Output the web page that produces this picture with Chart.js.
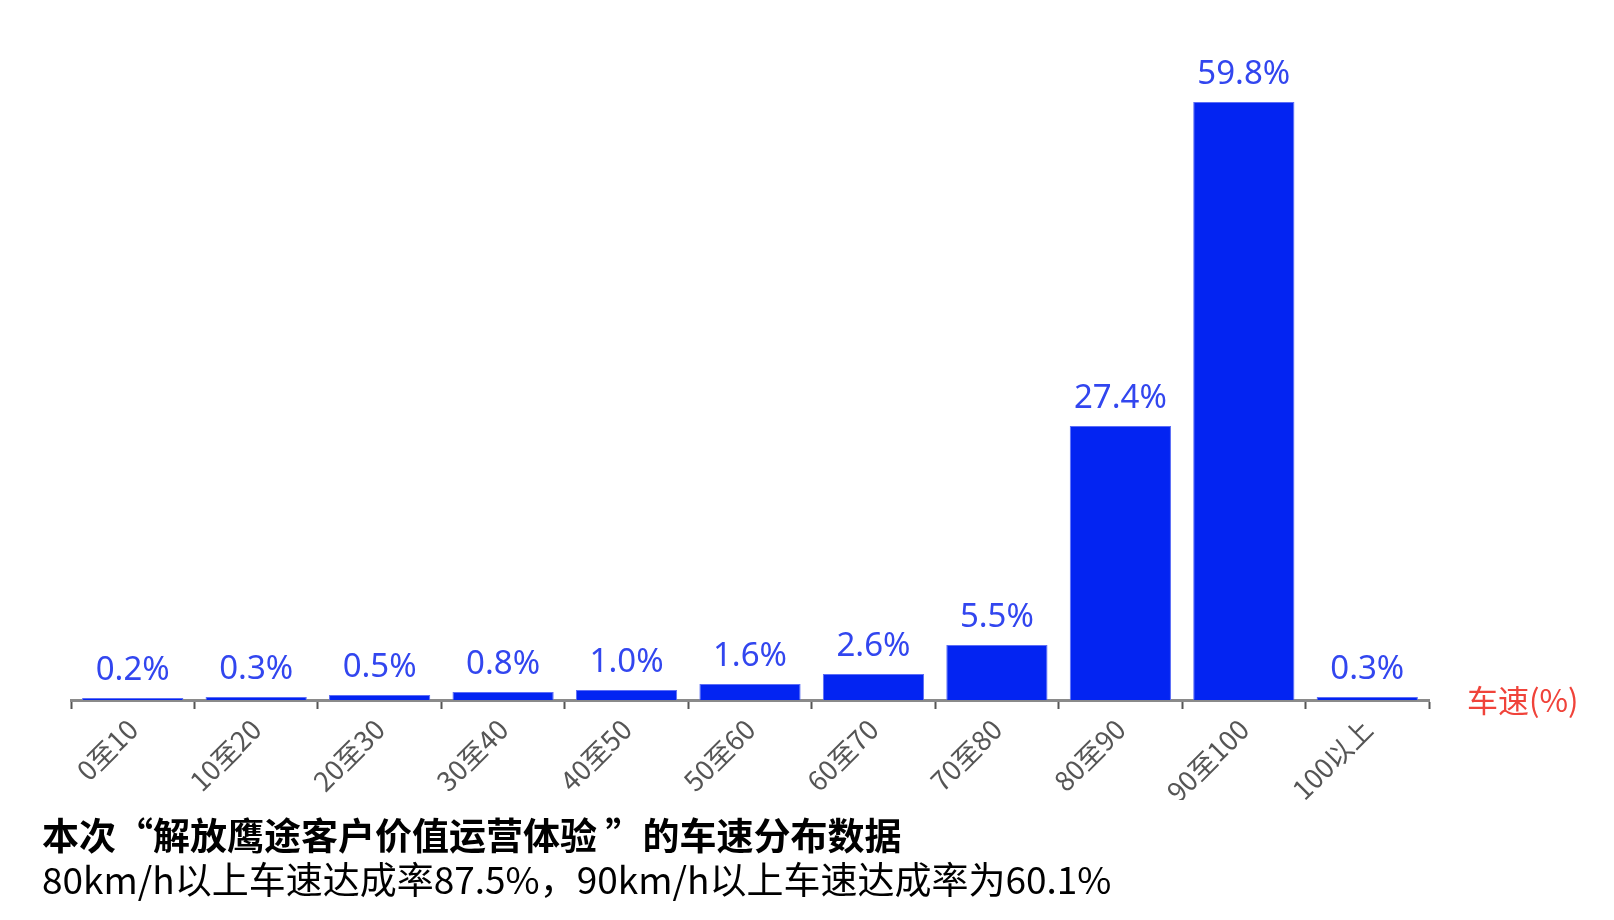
<!DOCTYPE html>
<html>
<head>
<meta charset="utf-8">
<script src="https://cdn.jsdelivr.net/npm/chart.js@4.4.0/dist/chart.umd.min.js"></script>
<style>
    html, body { margin: 0; padding: 0; background: #fff; }
    #wrap { position: relative; width: 1614px; height: 920px; }
    #speedChart { position: absolute; left: 0; top: 0; }
    .caption { position: absolute; left: 42px; color: #000; font-family: "Noto Sans CJK SC", sans-serif; font-size: 37px; white-space: nowrap; line-height: 1; }
    #title { top: 816px; font-weight: bold; }
    #subtitle { top: 860px; }
</style>
</head>
<body>
<div id="wrap">
    <canvas id="speedChart" width="1614" height="920"></canvas>
    <div id="title" class="caption">本次“解放鹰途客户价值运营体验 ”的车速分布数据</div>
    <div id="subtitle" class="caption">80km/h以上车速达成率87.5%，90km/h以上车速达成率为60.1%</div>
</div>
<script>
    // Categorías y valores (porcentaje de tiempo por rango de velocidad)
    const rangos = ['0至10', '10至20', '20至30', '30至40', '40至50', '50至60', '60至70', '70至80', '80至90', '90至100', '100以上'];
    const porcentajes = [0.2, 0.3, 0.5, 0.8, 1.0, 1.6, 2.6, 5.5, 27.4, 59.8, 0.3];
    const etiquetaEje = '车速(%)';

    const colors = {
        bar: '#0324f2',
        barBorder: '#5d6ef6',
        label: '#3246ef',
        axis: '#8a8a8a',
        tick: '#555555',
        axisName: '#f0433a'
    };

    // Etiquetas de valor encima de cada barra
    const valueLabels = {
        id: 'valueLabels',
        afterDatasetsDraw(chart) {
            const ctx = chart.ctx;
            const meta = chart.getDatasetMeta(0);
            ctx.save();
            ctx.font = '33px "Noto Sans", sans-serif';
            ctx.fillStyle = colors.label;
            ctx.textAlign = 'center';
            ctx.textBaseline = 'alphabetic';
            meta.data.forEach((bar, i) => {
                ctx.fillText(porcentajes[i].toFixed(1) + '%', bar.x, bar.y - 18);
            });
            ctx.restore();
        }
    };

    // Nombre del eje a la derecha
    const axisName = {
        id: 'axisName',
        afterDraw(chart) {
            const ctx = chart.ctx;
            const area = chart.chartArea;
            ctx.save();
            ctx.font = '31px "Noto Sans CJK SC", sans-serif';
            ctx.fillStyle = colors.axisName;
            ctx.textAlign = 'left';
            ctx.textBaseline = 'middle';
            ctx.fillText(etiquetaEje, area.right + 38, area.bottom);
            ctx.restore();
        }
    };

    const ctx = document.getElementById('speedChart').getContext('2d');
    new Chart(ctx, {
        type: 'bar',
        data: {
            labels: rangos,
            datasets: [{
                data: porcentajes,
                backgroundColor: colors.bar,
                borderColor: colors.barBorder,
                borderWidth: 1,
                categoryPercentage: 0.82,
                barPercentage: 1.0
            }]
        },
        options: {
            responsive: false,
            animation: false,
            layout: {
                padding: { left: 71, right: 185, top: 50, bottom: 120 }
            },
            plugins: {
                legend: { display: false },
                tooltip: { enabled: false }
            },
            scales: {
                y: {
                    display: false,
                    min: 0,
                    max: 65
                },
                x: {
                    afterFit: function(axis) { axis.height = 100; },
                    border: { display: true, color: colors.axis, width: 3 },
                    grid: {
                        display: true,
                        drawOnChartArea: false,
                        drawTicks: true,
                        tickLength: 9,
                        tickWidth: 2,
                        tickColor: colors.tick,
                        offset: true
                    },
                    ticks: {
                        color: colors.tick,
                        font: { family: '"Noto Sans CJK SC", sans-serif', size: 27 },
                        maxRotation: 45,
                        minRotation: 45,
                        autoSkip: false,
                        padding: 4
                    }
                }
            }
        },
        plugins: [valueLabels, axisName]
    });
</script>
</body>
</html>
